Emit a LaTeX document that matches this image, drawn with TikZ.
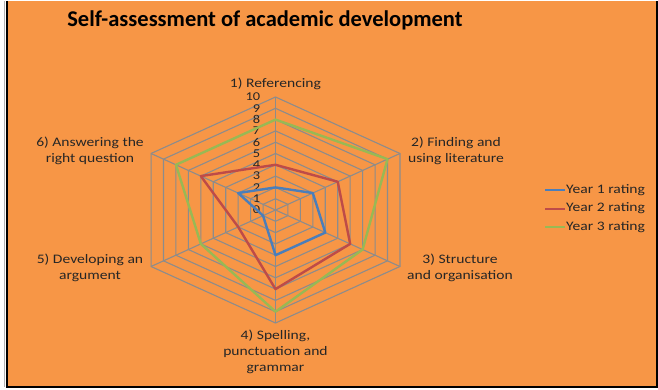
\documentclass[tikz,border=0pt]{standalone}
\usepackage{fontspec}
\setmainfont{Carlito}[FakeStretch=1.2]
\newfontfamily\titlefont{Carlito}
\usetikzlibrary{positioning}

\definecolor{chartorange}{HTML}{F79646}
\definecolor{gridgray}{HTML}{8C8C8C}
\definecolor{yearone}{HTML}{4A7EBB}
\definecolor{yeartwo}{HTML}{BE4B48}
\definecolor{yearthree}{HTML}{98B954}

\tikzset{
	gridline/.style={draw=gridgray, line width=1.1pt},
	series/.style={line width=2.4pt, line join=round},
	axislabel/.style={align=center, inner sep=0pt, text=black!85, font=\fontsize{13}{16}\selectfont},
	ticklabel/.style={anchor=east, inner sep=0pt, text=black!85, font=\fontsize{12}{12}\selectfont},
	legendtext/.style={anchor=west, inner sep=0pt, text=black!85, font=\fontsize{13}{13}\selectfont}
}

\begin{document}
\begin{tikzpicture}[x=1pt, y=1pt]
	% page and chart area
	\fill[white] (0,0) rectangle (658,390);
	\useasboundingbox (0,0) rectangle (658,390);
	\fill[chartorange] (7,3) rectangle (657,389);
	\draw[gray!60, line width=1pt] (4.5,3) -- (4.5,389);
	\draw[black, line width=2pt] (7,389) -- (7,3) -- (657,3) -- (657,389);
	
	\node[font=\titlefont\bfseries\fontsize{22.5}{27}\selectfont, anchor=base, inner sep=0pt] (title) at (265,363) {Self-assessment of academic development};
	
	\begin{scope}[shift={(275.5,180)}, x=14.37pt, y=11.3pt]
		% web
		\foreach \r in {1,...,10}
		\draw[gridline] (90:\r) -- (30:\r) -- (-30:\r) -- (-90:\r) -- (210:\r) -- (150:\r) -- cycle;
		\foreach \a in {90,30,-30,-90,210,150}
		\draw[gridline] (0,0) -- (\a:10);
		\foreach \r in {0,...,10}
		\node[ticklabel] at (-1.05,\r) {\r};
		
		\coordinate (v1) at (90:10);
		\coordinate (v4) at (-90:10);
		
		% ratings
		\draw[series, yearone] (90:2) -- (30:3) -- (-30:4) -- (-90:4) -- (210:1) -- (150:3) -- cycle;
		\draw[series, yeartwo] (90:4) -- (30:5) -- (-30:6) -- (-90:7) -- (210:3) -- (150:6) -- cycle;
		\draw[series, yearthree] (90:8) -- (30:9) -- (-30:7) -- (-90:9) -- (210:6) -- (150:8) -- cycle;
	\end{scope}
	
	% axis labels
	\node[axislabel, above=7pt of v1] (ax1) {1) Referencing};
	\node[axislabel] (ax2) at (456,239.5) {2) Finding and\\using literature};
	\node[axislabel] (ax3) at (460,122.5) {3) Structure\\and organisation};
	\node[axislabel, below=7pt of v4] (ax4) {4) Spelling,\\punctuation and\\grammar};
	\node[axislabel] (ax5) at (90,122) {5) Developing an\\argument};
	\node[axislabel] (ax6) at (90,239.5) {6) Answering the\\right question};
	
	% legend
	\node[legendtext] (lg1) at (566,200) {Year 1 rating};
	\node[legendtext, below=7pt of lg1.south west, anchor=north west] (lg2) {Year 2 rating};
	\node[legendtext, below=7pt of lg2.south west, anchor=north west] (lg3) {Year 3 rating};
	\draw[yearone, line width=2pt] ([xshift=-21pt]lg1.west) -- ([xshift=-1pt]lg1.west);
	\draw[yeartwo, line width=2pt] ([xshift=-21pt]lg2.west) -- ([xshift=-1pt]lg2.west);
	\draw[yearthree, line width=2pt] ([xshift=-21pt]lg3.west) -- ([xshift=-1pt]lg3.west);
\end{tikzpicture}
\end{document}
